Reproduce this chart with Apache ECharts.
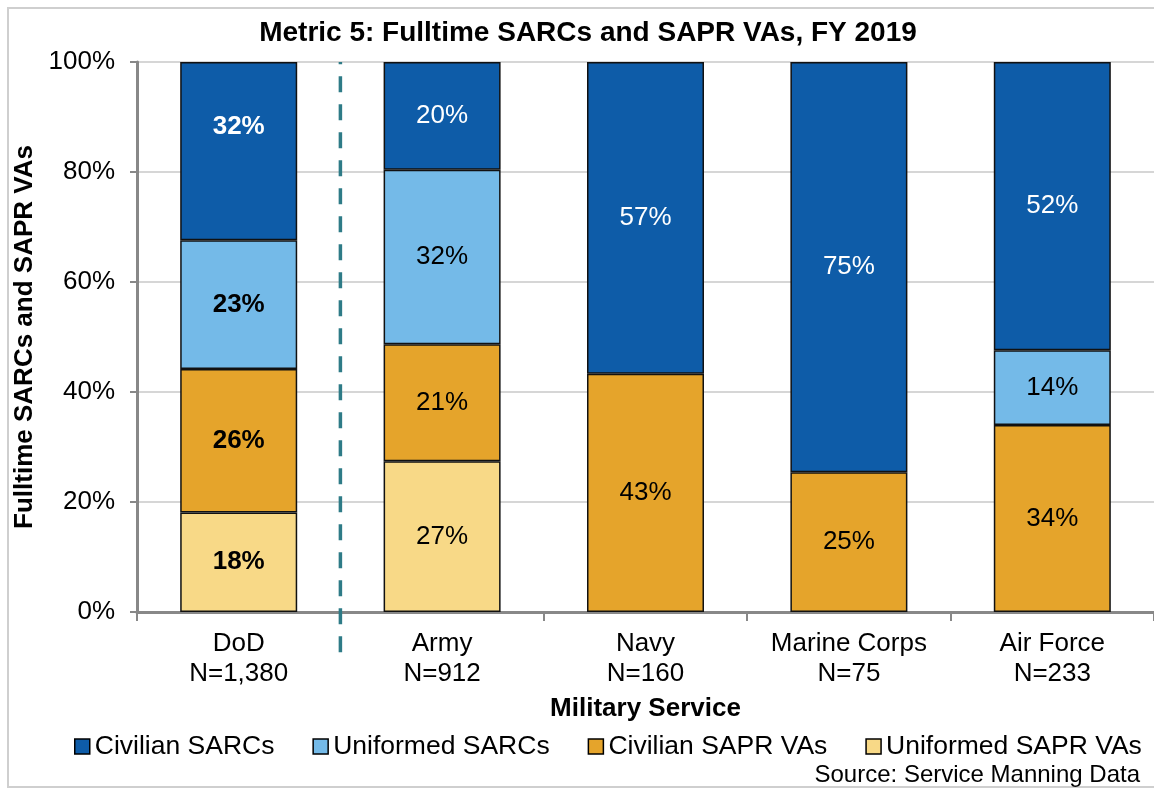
<!DOCTYPE html>
<html>
<head>
<meta charset="utf-8">
<style>
  html, body { margin: 0; padding: 0; background: #fff; }
  #chart { width: 1154px; height: 791px; }
</style>
<script src="https://cdn.jsdelivr.net/npm/echarts@6/dist/echarts.min.js"></script>
</head>
<body>
<div id="chart"></div>
<script>
// categories shown on the x axis
var services = ['DoD\nN=1,380', 'Army\nN=912', 'Navy\nN=160', 'Marine Corps\nN=75', 'Air Force\nN=233'];

// percent of fulltime staff, bottom to top of each stack
var uniformedSaprVas = [18.1, 27.4, '-', '-', '-'];
var civilianSaprVas = [26.1, 21.3, 43.3, 25.4, 34.0];
var uniformedSarcs = [23.4, 31.7, '-', '-', 13.6];
var civilianSarcs = [32.4, 19.6, 56.7, 74.6, 52.4];

var yTicks = [0, 20, 40, 60, 80, 100];

// divider between DoD and the services (value axis position, y range)
var divider = [[1, -7.3], [1, 100]];

var FONT = '"Liberation Sans", Arial, sans-serif';

function mkSeries(name, values, color, labelColor, dodLift) {
    return {
        name: name,
        type: 'bar',
        stack: 'all',
        barWidth: 117,
        itemStyle: { color: color, borderColor: '#111', borderWidth: 1.5 },
        label: {
            show: true,
            position: 'inside',
            color: labelColor,
            fontSize: 26,
            fontFamily: FONT,
            formatter: function (p) { return Math.round(p.value) + '%'; }
        },
        data: values.map(function (v, i) {
            // DoD totals are printed bold
            if (i === 0) return { value: v, label: { fontWeight: 'bold', offset: [0, -(dodLift || 0)] } };
            return v;
        })
    };
}

var chart = echarts.init(document.getElementById('chart'));

chart.setOption({
    animation: false,
    title: {
        text: 'Metric 5: Fulltime SARCs and SAPR VAs, FY 2019',
        left: 583,
        textAlign: 'center',
        top: 14,
        textStyle: { fontFamily: FONT, fontSize: 28, fontWeight: 'bold', color: '#000' }
    },
    graphic: [
        {
            type: 'rect',
            shape: { x: 8, y: 8, width: 1170, height: 779 },
            style: { fill: 'none', stroke: '#cfcfcf', lineWidth: 2 },
            silent: true
        },
        {
            type: 'text',
            right: 14,
            top: 763,
            style: { text: 'Source: Service Manning Data', font: '24px ' + FONT, fill: '#000' }
        }
    ],
    legend: {
        top: 733,
        left: 74,
        width: 1080,
        padding: 0,
        itemWidth: 15,
        itemHeight: 15,
        itemGap: 38,
        icon: 'rect',
        itemStyle: { borderColor: '#000', borderWidth: 1.5 },
        textStyle: { fontFamily: FONT, fontSize: 26.5, color: '#000' },
        data: ['Civilian SARCs', 'Uniformed SARCs', 'Civilian SAPR VAs', 'Uniformed SAPR VAs']
    },
    grid: { left: 137, top: 62, right: -6, bottom: 179 },
    xAxis: [
        {
            type: 'category',
            data: services,
            name: 'Military Service',
            nameLocation: 'middle',
            nameGap: 84,
            nameTextStyle: { fontFamily: FONT, fontSize: 26, fontWeight: 'bold', color: '#000' },
            axisLine: { lineStyle: { color: '#888', width: 3 } },
            axisTick: { show: true, length: 9, lineStyle: { color: '#888', width: 2 } },
            axisLabel: { fontFamily: FONT, fontSize: 26, color: '#000', lineHeight: 30, margin: 17 }
        },
        {
            type: 'value',
            min: 0,
            max: 5,
            show: false
        }
    ],
    yAxis: {
        type: 'value',
        min: 0,
        max: 100,
        interval: 20,
        name: 'Fulltime SARCs and SAPR VAs',
        nameLocation: 'middle',
        nameGap: 90,
        nameTextStyle: { fontFamily: FONT, fontSize: 26, fontWeight: 'bold', color: '#000' },
        axisLine: { show: true, lineStyle: { color: '#888', width: 3 } },
        axisTick: { show: true, length: 7, lineStyle: { color: '#888', width: 2 } },
        splitLine: { lineStyle: { color: '#c8c8c8', width: 1.5 } },
        axisLabel: {
            fontFamily: FONT, fontSize: 26, color: '#000', margin: 22,
            formatter: function (v) { return yTicks.indexOf(v) >= 0 ? v + '%' : ''; }
        }
    },
    series: [
        mkSeries('Uniformed SAPR VAs', uniformedSaprVas, '#F8D987', '#000'),
        mkSeries('Civilian SAPR VAs', civilianSaprVas, '#E5A42B', '#000'),
        mkSeries('Uniformed SARCs', uniformedSarcs, '#74BAE8', '#000'),
        mkSeries('Civilian SARCs', civilianSarcs, '#0E5CA8', '#fff', 24),
        {
            type: 'line',
            xAxisIndex: 1,
            data: divider,
            symbol: 'none',
            clip: false,
            silent: true,
            z: 5,
            lineStyle: { color: '#2E7B87', width: 3.5, type: [16, 12] }
        }
    ]
});
</script>
</body>
</html>
